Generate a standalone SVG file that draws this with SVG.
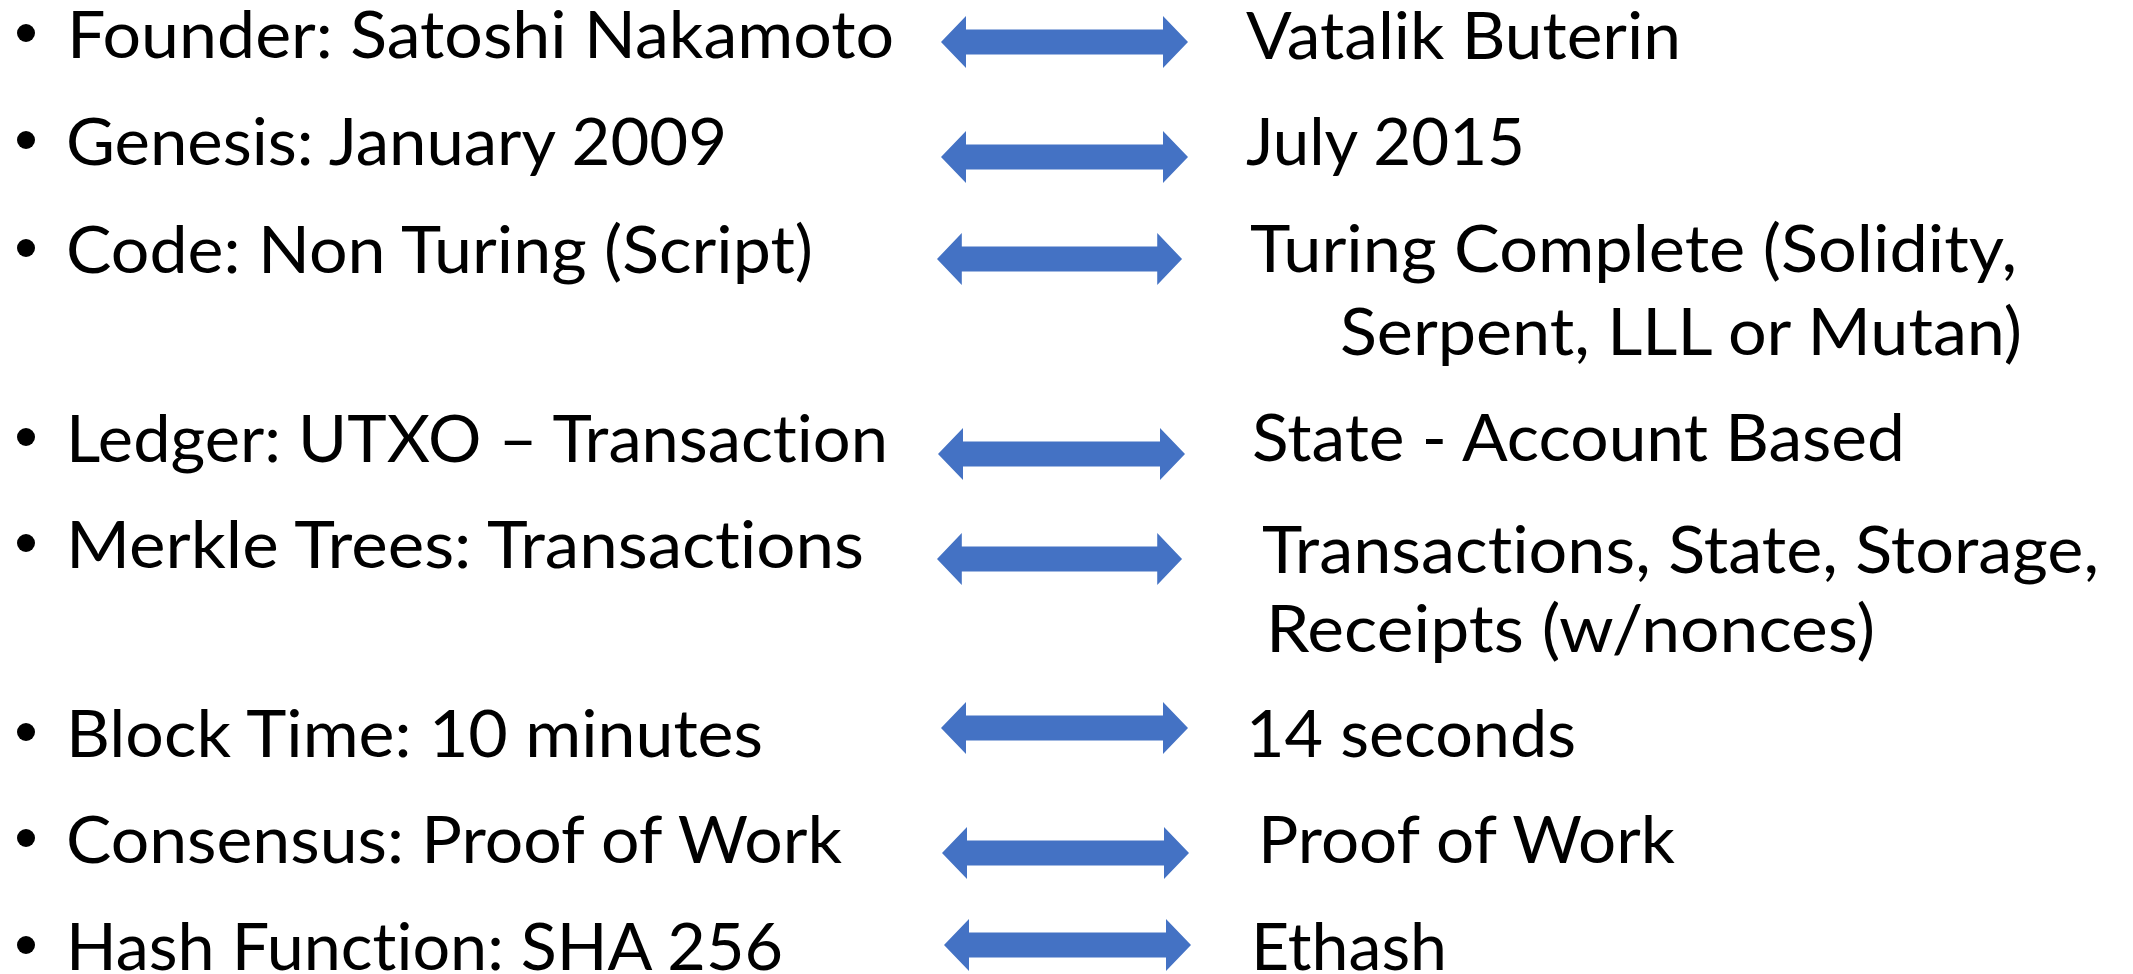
<svg xmlns="http://www.w3.org/2000/svg" width="2133" height="974" viewBox="0 0 2133 974">
<style>
.t{font-family:Lato,"Open Sans","Liberation Sans",sans-serif;font-size:65px;fill:#000;font-variant-ligatures:none;font-feature-settings:"liga" 0,"clig" 0}
.b{fill:#000}
.a{fill:#4472C4}
</style>
<defs>
<path id="arr" d="M0,0 L25,-26 L25,-12.5 L222,-12.5 L222,-26 L247,0 L222,26 L222,12.5 L25,12.5 L25,26 Z"/>
</defs>
<rect width="2133" height="974" fill="#fff"/>
<g id="left">
<g id="l1"><circle class="b" cx="26" cy="33" r="9"/><text class="t" x="67" y="58" textLength="827" lengthAdjust="spacingAndGlyphs">Founder: Satoshi Nakamoto</text></g>
<g id="l2"><circle class="b" cx="26" cy="140" r="9"/><text class="t" x="66" y="165" textLength="661" lengthAdjust="spacingAndGlyphs">Genesis: January 2009</text></g>
<g id="l3"><circle class="b" cx="26" cy="248" r="9"/><text class="t" x="66" y="273" textLength="747" lengthAdjust="spacingAndGlyphs">Code: Non Turing (Script)</text></g>
<g id="l4"><circle class="b" cx="26" cy="437" r="9"/><text class="t" x="66" y="462" textLength="822" lengthAdjust="spacingAndGlyphs">Ledger: UTXO – Transaction</text></g>
<g id="l5"><circle class="b" cx="26" cy="543" r="9"/><text class="t" x="66" y="568" textLength="798" lengthAdjust="spacingAndGlyphs">Merkle Trees: Transactions</text></g>
<g id="l6"><circle class="b" cx="26" cy="732" r="9"/><text class="t" x="66" y="757" textLength="697" lengthAdjust="spacingAndGlyphs">Block Time: 10 minutes</text></g>
<g id="l7"><circle class="b" cx="26" cy="838" r="9"/><text class="t" x="66" y="863" textLength="776" lengthAdjust="spacingAndGlyphs">Consensus: Proof of Work</text></g>
<g id="l8"><circle class="b" cx="26" cy="945" r="9"/><text class="t" x="66" y="970" textLength="717" lengthAdjust="spacingAndGlyphs">Hash Function: SHA 256</text></g>
</g>
<g id="connectors">
<use href="#arr" class="a" transform="translate(941,42)"/>
<use href="#arr" class="a" transform="translate(941,157)"/>
<use href="#arr" class="a" transform="translate(937,259) scale(0.992,1)"/>
<use href="#arr" class="a" transform="translate(938,454)"/>
<use href="#arr" class="a" transform="translate(937,559) scale(0.992,1)"/>
<use href="#arr" class="a" transform="translate(941,728)"/>
<use href="#arr" class="a" transform="translate(942,853)"/>
<use href="#arr" class="a" transform="translate(944,945)"/>
</g>
<g id="right">
<g id="r1"><text class="t" x="1246" y="59" textLength="435" lengthAdjust="spacingAndGlyphs">Vatalik Buterin</text></g>
<g id="r2"><text class="t" x="1246" y="165" textLength="279" lengthAdjust="spacingAndGlyphs">July 2015</text></g>
<g id="r3"><text class="t" x="1250" y="272" textLength="767" lengthAdjust="spacingAndGlyphs">Turing Complete (Solidity,</text><text class="t" x="1340" y="355" textLength="682" lengthAdjust="spacingAndGlyphs">Serpent, LLL or Mutan)</text></g>
<g id="r4"><text class="t" x="1252" y="461" textLength="653" lengthAdjust="spacingAndGlyphs">State - Account Based</text></g>
<g id="r5"><text class="t" x="1262" y="573" textLength="837" lengthAdjust="spacingAndGlyphs">Transactions, State, Storage,</text><text class="t" x="1266" y="652" textLength="609" lengthAdjust="spacingAndGlyphs">Receipts (w/nonces)</text></g>
<g id="r6"><text class="t" x="1246" y="757" textLength="330" lengthAdjust="spacingAndGlyphs">14 seconds</text></g>
<g id="r7"><text class="t" x="1258" y="863" textLength="417" lengthAdjust="spacingAndGlyphs">Proof of Work</text></g>
<g id="r8"><text class="t" x="1251" y="970" textLength="196" lengthAdjust="spacingAndGlyphs">Ethash</text></g>
</g>
</svg>
